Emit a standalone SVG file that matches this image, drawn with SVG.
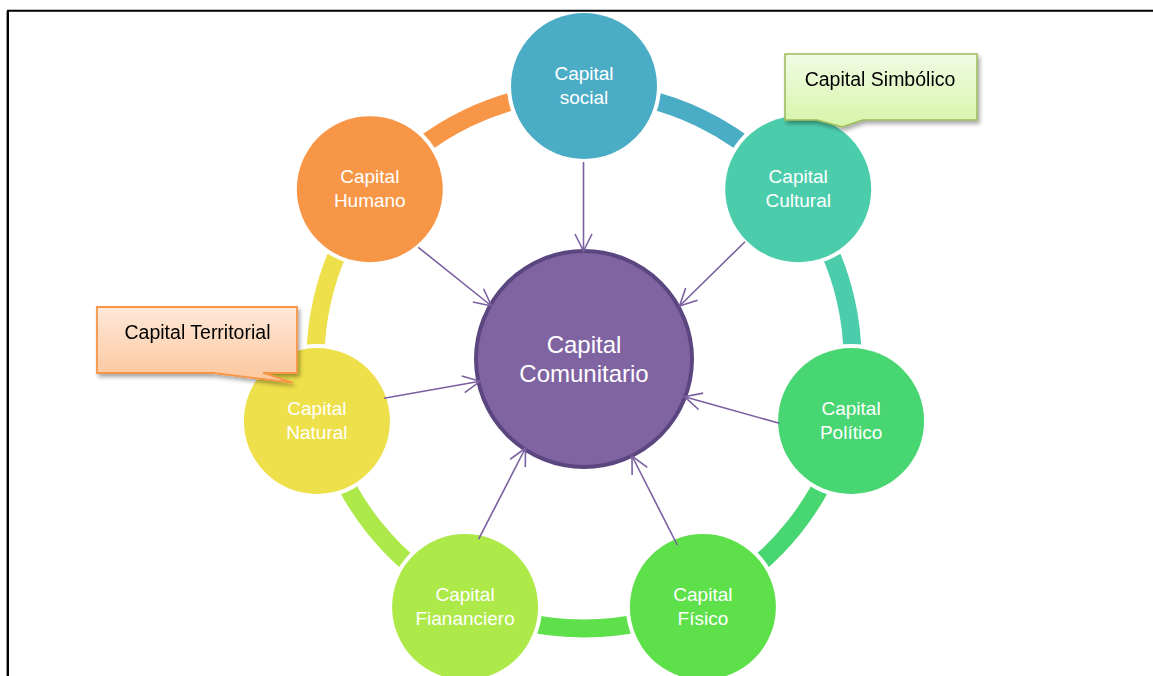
<svg xmlns="http://www.w3.org/2000/svg" width="1153" height="676" viewBox="0 0 1153 676">
<style>
.ring{fill:none;stroke-width:18}
.halo{fill:#ffffff}
.lbl{font-family:"Liberation Sans",Arial,sans-serif;font-size:19px;fill:#ffffff;text-anchor:middle}
.clbl{font-family:"Liberation Sans",Arial,sans-serif;font-size:24px;fill:#ffffff;text-anchor:middle}
.co{font-family:"Liberation Sans",Arial,sans-serif;font-size:19.5px;fill:#000000;text-anchor:middle}
.arr{stroke:#7b5fa0;stroke-width:1.6;fill:none;marker-end:url(#ah)}
</style>
<defs>
<marker id="ah" markerUnits="userSpaceOnUse" markerWidth="40" markerHeight="40" viewBox="-20 -20 40 40" refX="0" refY="0" orient="auto">
<path d="M-17,-8.5 L0,0 L-17,8.5" fill="none" stroke="#7b5fa0" stroke-width="1.6"/>
</marker>
<linearGradient id="gGreen" x1="0" y1="0" x2="0" y2="1">
<stop offset="0" stop-color="#f1fbe4"/>
<stop offset="1" stop-color="#d6f5a8"/>
</linearGradient>
<linearGradient id="gOrange" x1="0" y1="0" x2="0" y2="1">
<stop offset="0" stop-color="#fde8d8"/>
<stop offset="1" stop-color="#fcc69c"/>
</linearGradient>
<filter id="sh" x="-10%" y="-10%" width="130%" height="140%">
<feDropShadow dx="2" dy="3" stdDeviation="2" flood-color="#000000" flood-opacity="0.35"/>
</filter>
</defs>

<rect width="1153" height="676" fill="#ffffff"/>

<g id="ring">
<path class="ring" stroke="#4bacc6" d="M584,91.5 A268.5,268.5 0 0 1 793.9,192.6"/>
<path class="ring" stroke="#4bcdac" d="M793.9,192.6 A268.5,268.5 0 0 1 845.8,419.7"/>
<path class="ring" stroke="#48d672" d="M845.8,419.7 A268.5,268.5 0 0 1 700.5,601.9"/>
<path class="ring" stroke="#5ee04a" d="M700.5,601.9 A268.5,268.5 0 0 1 467.5,601.9"/>
<path class="ring" stroke="#aee94a" d="M467.5,601.9 A268.5,268.5 0 0 1 322.2,419.7"/>
<path class="ring" stroke="#eee04a" d="M322.2,419.7 A268.5,268.5 0 0 1 374.1,192.6"/>
<path class="ring" stroke="#f79646" d="M374.1,192.6 A268.5,268.5 0 0 1 584,91.5"/>
</g>

<g id="node-social">
<circle class="halo" cx="584" cy="86" r="77"/>
<circle cx="584" cy="86" r="73" fill="#4bacc6"/>
<text class="lbl" x="584" y="80">Capital</text>
<text class="lbl" x="584" y="104">social</text>
</g>
<g id="node-cultural">
<circle class="halo" cx="798.2" cy="189.2" r="77"/>
<circle cx="798.2" cy="189.2" r="73" fill="#4bcdac"/>
<text class="lbl" x="798.2" y="183.2">Capital</text>
<text class="lbl" x="798.2" y="207.2">Cultural</text>
</g>
<g id="node-politico">
<circle class="halo" cx="851.1" cy="421" r="77"/>
<circle cx="851.1" cy="421" r="73" fill="#48d672"/>
<text class="lbl" x="851.1" y="415">Capital</text>
<text class="lbl" x="851.1" y="439">Político</text>
</g>
<g id="node-fisico">
<circle class="halo" cx="702.9" cy="606.9" r="77"/>
<circle cx="702.9" cy="606.9" r="73" fill="#5ee04a"/>
<text class="lbl" x="702.9" y="600.9">Capital</text>
<text class="lbl" x="702.9" y="624.9">Físico</text>
</g>
<g id="node-fiananciero">
<circle class="halo" cx="465.1" cy="606.9" r="77"/>
<circle cx="465.1" cy="606.9" r="73" fill="#aee94a"/>
<text class="lbl" x="465.1" y="600.9">Capital</text>
<text class="lbl" x="465.1" y="624.9">Fiananciero</text>
</g>
<g id="node-natural">
<circle class="halo" cx="316.9" cy="421" r="77"/>
<circle cx="316.9" cy="421" r="73" fill="#eee04a"/>
<text class="lbl" x="316.9" y="415">Capital</text>
<text class="lbl" x="316.9" y="439">Natural</text>
</g>
<g id="node-humano">
<circle class="halo" cx="369.8" cy="189.2" r="77"/>
<circle cx="369.8" cy="189.2" r="73" fill="#f79646"/>
<text class="lbl" x="369.8" y="183.2">Capital</text>
<text class="lbl" x="369.8" y="207.2">Humano</text>
</g>

<g id="node-comunitario">
<circle cx="584" cy="359" r="108" fill="#8064a2" stroke="#5c4680" stroke-width="4"/>
<text class="clbl" x="584" y="353">Capital</text>
<text class="clbl" x="584" y="382">Comunitario</text>
</g>

<g id="connectors">
<line class="arr" x1="583.5" y1="162" x2="583.5" y2="251"/>
<line class="arr" x1="418.3" y1="247.3" x2="491.5" y2="306"/>
<line class="arr" x1="745" y1="241.7" x2="679.5" y2="306"/>
<line class="arr" x1="779.3" y1="423.3" x2="684.5" y2="396.7"/>
<line class="arr" x1="677.3" y1="545" x2="632" y2="456"/>
<line class="arr" x1="478.6" y1="539.2" x2="525.5" y2="448"/>
<line class="arr" x1="384" y1="398.3" x2="480" y2="381.3"/>
</g>

<g id="callout-simbolico" filter="url(#sh)">
<path d="M785,54 H977 V120 H863 L842,127 L817,120 H785 Z" fill="url(#gGreen)" stroke="#9bbb59" stroke-width="1.5"/>
<text class="co" x="880" y="86">Capital Simbólico</text>
</g>
<g id="callout-territorial" filter="url(#sh)">
<path d="M97,307 H297 V373 H263 L293,382.7 L213,373 H97 Z" fill="url(#gOrange)" stroke="#f79646" stroke-width="1.8"/>
<text class="co" x="197.5" y="339">Capital Territorial</text>
</g>

<g id="frame">
<path d="M6.5,676 V11" stroke="#9a9a9a" stroke-width="1" fill="none"/>
<path d="M8,676 V10.7 H1153" stroke="#000000" stroke-width="2" fill="none"/>
</g>
</svg>
